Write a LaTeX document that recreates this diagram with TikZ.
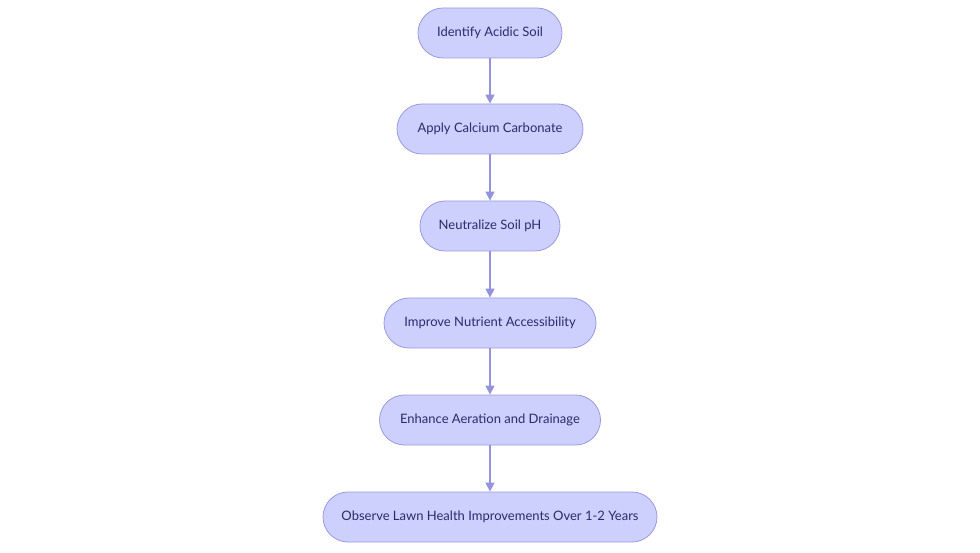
\documentclass[tikz,border=0pt]{standalone}
\usepackage{fontspec}
\setmainfont{Lato}
\usetikzlibrary{arrows.meta}
\definecolor{boxfill}{HTML}{CDCFFD}
\definecolor{boxline}{HTML}{9A9AE6}
\definecolor{txt}{HTML}{2B2B6E}
\definecolor{arr}{HTML}{9494DE}
\tikzset{stepbox/.style={draw=boxline,fill=boxfill,rounded corners=25pt,minimum height=50pt,text=txt,font=\fontsize{13pt}{15pt}\selectfont,line width=0.8pt},
conn/.style={draw=arr,line width=1.3pt,-{Triangle[length=9pt,width=9pt]}}}
\begin{document}
\begin{tikzpicture}[x=1pt,y=-1pt]
\useasboundingbox (0,0) rectangle (980,553);
\node[stepbox,minimum width=144pt] (a) at (490,33) {Identify Acidic Soil};
\node[stepbox,minimum width=186pt] (b) at (490,129) {Apply Calcium Carbonate};
\node[stepbox,minimum width=140pt] (c) at (490,226) {Neutralize Soil pH};
\node[stepbox,minimum width=212pt] (d) at (490,323) {Improve Nutrient Accessibility};
\node[stepbox,minimum width=221pt] (e) at (490,420) {Enhance Aeration and Drainage};
\node[stepbox,minimum width=334pt] (f) at (490,517) {Observe Lawn Health Improvements Over 1-2 Years};
\draw[conn] (a) -- (b);
\draw[conn] (b) -- (c);
\draw[conn] (c) -- (d);
\draw[conn] (d) -- (e);
\draw[conn] (e) -- (f);
\end{tikzpicture}
\end{document}
